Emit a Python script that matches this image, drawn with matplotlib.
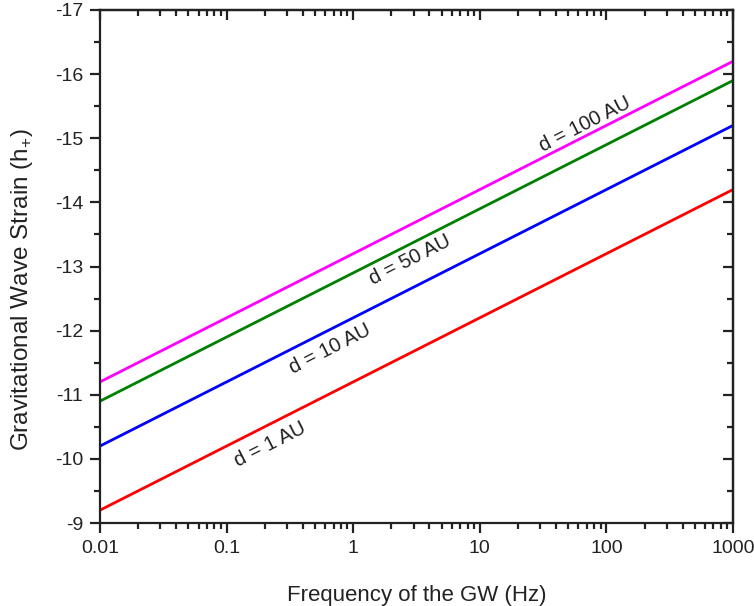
import matplotlib
matplotlib.use("Agg")
import matplotlib.pyplot as plt
from matplotlib.ticker import LogLocator, MultipleLocator, FuncFormatter

plt.rcParams['font.family'] = ['Liberation Sans', 'DejaVu Sans']
plt.rcParams['mathtext.fontset'] = 'custom'
plt.rcParams['mathtext.rm'] = 'Liberation Sans'
plt.rcParams['axes.unicode_minus'] = False

freq = [0.01, 0.1, 1, 10, 100, 1000]
h_1au = [-9.2, -10.2, -11.2, -12.2, -13.2, -14.2]
h_10au = [-10.2, -11.2, -12.2, -13.2, -14.2, -15.2]
h_50au = [-10.9, -11.9, -12.9, -13.9, -14.9, -15.9]
h_100au = [-11.2, -12.2, -13.2, -14.2, -15.2, -16.2]

series = [(h_1au, 'red'), (h_10au, 'blue'), (h_50au, 'green'), (h_100au, 'magenta')]
labels = ['d = 1 AU', 'd = 10 AU', 'd = 50 AU', 'd = 100 AU']
label_pos = [(0.22, -10.22), (0.66, -11.72), (2.8, -13.1), (68, -15.22)]

dark = '#222222'
fig = plt.figure(figsize=(7.54, 6.06), dpi=100)
ax = fig.add_axes([100/754, 1-523/606, 633/754, 513/606])

for vals, c in series:
    ax.plot(freq, vals, color=c, lw=2)

ax.set_xscale('log')
ax.set_xlim(0.01, 1000)
ax.set_ylim(-9, -17)

for (x, y), t in zip(label_pos, labels):
    ax.text(x, y, t, rotation=27, ha='center', va='center', fontsize=14.5, color=dark)

ax.xaxis.set_major_locator(LogLocator(base=10, numticks=10))
ax.xaxis.set_minor_locator(LogLocator(base=10, subs=range(2, 10), numticks=20))
ax.xaxis.set_major_formatter(FuncFormatter(lambda v, p: ('%g' % v)))
ax.yaxis.set_major_locator(MultipleLocator(1))
ax.yaxis.set_minor_locator(MultipleLocator(0.5))

for s in ax.spines.values():
    s.set_linewidth(1.6)
    s.set_color(dark)

ax.tick_params(which='major', direction='out', length=7, width=1.6, labelsize=14, colors=dark, pad=5)
ax.tick_params(which='minor', direction='out', length=4, width=1.6, colors=dark)
ax.tick_params(which='both', top=False, right=False)

sx = ax.secondary_xaxis('top')
sx.xaxis.set_major_locator(LogLocator(base=10, numticks=10))
sx.xaxis.set_minor_locator(LogLocator(base=10, subs=range(2, 10), numticks=20))
sx.tick_params(which='major', direction='in', length=7, width=1.6, labeltop=False, colors=dark)
sx.tick_params(which='minor', direction='in', length=4, width=1.6, colors=dark)
sx.spines['top'].set_linewidth(1.6)

sy = ax.secondary_yaxis('right')
sy.yaxis.set_major_locator(MultipleLocator(1))
sy.yaxis.set_minor_locator(MultipleLocator(0.5))
sy.tick_params(which='major', direction='in', length=7, width=1.6, labelright=False, colors=dark)
sy.tick_params(which='minor', direction='in', length=4, width=1.6, colors=dark)
sy.spines['right'].set_linewidth(1.6)

ax.set_xlabel('Frequency of the GW (Hz)', fontsize=16, color=dark)
ax.set_ylabel(r'Gravitational Wave Strain (h$_{\mathregular{+}}$)', fontsize=17.5, color=dark)
ax.xaxis.set_label_coords(0.5, -0.121)
ax.yaxis.set_label_coords(-0.103, 0.454)

fig.savefig('out.png', dpi=100)
